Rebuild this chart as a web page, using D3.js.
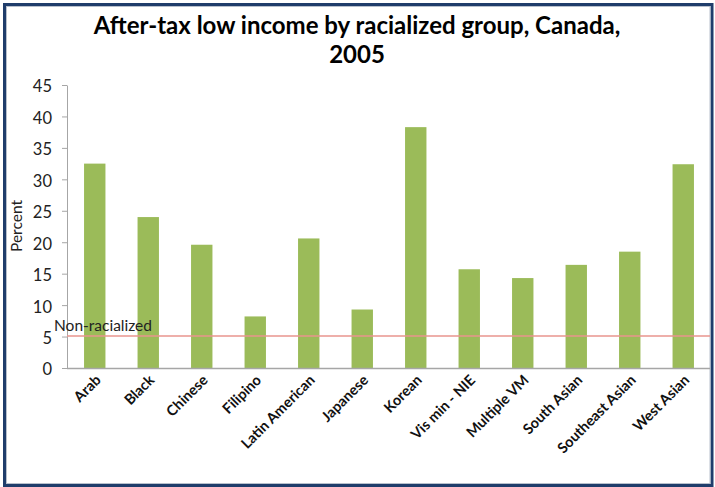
<!DOCTYPE html>
<html><head><meta charset="utf-8">
<script src="https://cdn.jsdelivr.net/npm/d3@7"></script>
<style>
html,body{margin:0;padding:0;background:#fff;}
svg{display:block;}
</style></head>
<body>
<svg id="c" width="715" height="487"></svg>
<script>
const categories = ["Arab","Black","Chinese","Filipino","Latin American","Japanese","Korean","Vis min - NIE","Multiple VM","South Asian","Southeast Asian","West Asian"];
const values = [32.5, 24.0, 19.6, 8.2, 20.6, 9.3, 38.3, 15.7, 14.3, 16.4, 18.5, 32.4];
const referenceLabel = "Non-racialized";
const referenceValue = 5.1;
const yTicks = [0,5,10,15,20,25,30,35,40,45];
const titleLines = ["After-tax low income by racialized group, Canada,", "2005"];
const yLabel = "Percent";

const svg = d3.select("#c");
const font = "Lato, 'Open Sans', sans-serif";

// frame
svg.append("rect").attr("x",4.5).attr("y",4.5).attr("width",707.5).attr("height",481)
  .attr("fill","none").attr("stroke","#1f3d6b").attr("stroke-width",3);
svg.append("rect").attr("x",6.5).attr("y",6.5).attr("width",703.5).attr("height",477)
  .attr("fill","none").attr("stroke","#b8c0cc").attr("stroke-width",1);

// title
svg.append("g").selectAll("text").data(titleLines).join("text")
  .attr("x",357).attr("y",(d,i)=>34+i*29)
  .attr("text-anchor","middle").attr("font-family",font).attr("font-weight","bold")
  .attr("font-size",24).attr("fill","#000").text(d=>d);

const x = d3.scaleBand().domain(categories).range([68,710]).paddingInner(0.6).paddingOuter(0.3);
const y = d3.scaleLinear().domain([0,45]).range([368,85]);

// bars
svg.append("g").selectAll("rect").data(values).join("rect")
  .attr("x",(d,i)=>x(categories[i])).attr("width",x.bandwidth())
  .attr("y",d=>y(d)).attr("height",d=>y(0)-y(d))
  .attr("fill","#9bbb59");

// y axis
const yAxis = svg.append("g").attr("transform","translate(67,0)")
  .call(d3.axisLeft(y).tickValues(yTicks).tickSize(5).tickPadding(10).tickSizeOuter(0));
yAxis.select(".domain").attr("stroke","#a6a6a6");
yAxis.selectAll(".tick line").attr("stroke","#a6a6a6");
yAxis.selectAll("text").attr("font-family",font).attr("font-size",16.5).attr("fill","#222").attr("dy","0.42em");

// x axis
const xAxis = svg.append("g").attr("transform","translate(0,368)")
  .call(d3.axisBottom(x).tickSize(0).tickSizeOuter(0).tickPadding(0));
xAxis.select(".domain").attr("stroke","#a6a6a6").attr("stroke-width",1.5)
  .attr("d","M67,0.5H710");
xAxis.selectAll(".tick text")
  .attr("font-family",font).attr("font-size",14.5).attr("font-weight","bold").attr("fill","#111")
  .attr("text-anchor","end").attr("dy",0).attr("y",0)
  .attr("transform","translate(7,13) rotate(-45)");

// reference line
svg.append("line").attr("x1",67).attr("x2",710).attr("y1",y(referenceValue)).attr("y2",y(referenceValue))
  .attr("stroke","#e8948e").attr("stroke-width",1.5);
svg.append("text").attr("x",54).attr("y",y(referenceValue)-5)
  .attr("font-family",font).attr("font-size",15.5).attr("fill","#222").text(referenceLabel);

// y label
svg.append("text").attr("transform","translate(22,226) rotate(-90)")
  .attr("text-anchor","middle").attr("font-family",font).attr("font-size",15.5).attr("fill","#222").text(yLabel);
</script>
</body></html>
